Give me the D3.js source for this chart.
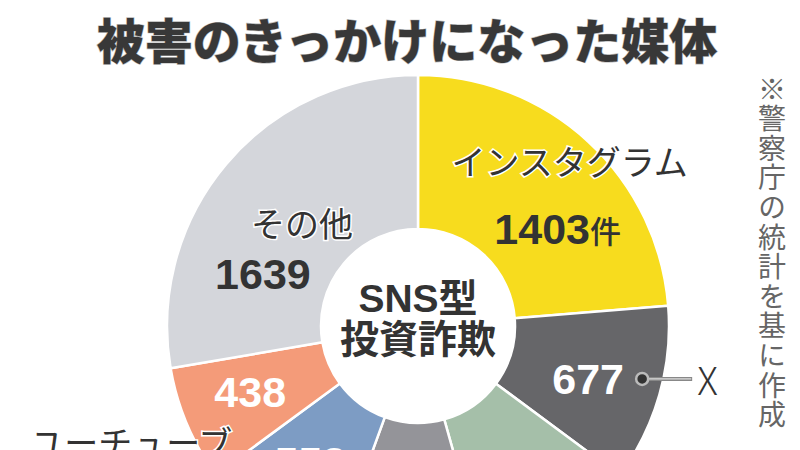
<!DOCTYPE html>
<html><head><meta charset="utf-8">
<script src="https://cdn.jsdelivr.net/npm/d3@7"></script>
<style>html,body{margin:0;padding:0;background:#fff;overflow:hidden} svg{display:block}</style>
</head><body>
<svg id="chart" width="800" height="450"></svg>
<script>
// ---- data ----
const categories = ["インスタグラム", "X", "媒体A", "媒体B", "媒体C", "ユーチューブ", "その他"];
const values = [1403, 677, 621, 587, 553, 438, 1639];
const valueLabels = ["1403", "677", null, null, "553", "438", "1639"];
const nameLabels = ["インスタグラム", "X", null, null, null, "ユーチューブ", "その他"];
const titleText = "被害のきっかけになった媒体";
const centerLines = ["SNS型", "投資詐欺"];
const unitText = "件";
const noteText = "※警察庁の統計を基に作成";

// ---- styles / layout ----
const colors = ["#F7DC1E", "#666669", "#A5BFA9", "#949499", "#7D9CC4", "#F49B79", "#D4D6DB"];
const valueColors = ["#333", "#fff", "#fff", "#fff", "#fff", "#fff", "#333"];
const valueOffsets = [[19, 34], [-1, 4], [0, 0], [0, 0], [-1, -6], [-4, -4], [-19, 63]];
const nameOffsets = [[31, -35], null, null, null, null, [-123, 46], [20, 11]];
const cx = 418, cy = 326, R = 251, r0 = 97, rLabel = 178;
const JP = "'Noto Sans CJK JP', 'Noto Sans', sans-serif";
const NUM = "'Liberation Sans', 'Noto Sans CJK JP', sans-serif";

const svg = d3.select("#chart");
svg.append("rect").attr("width", 800).attr("height", 450).attr("fill", "#fff");

const data = categories.map((c, i) => ({ name: c, value: values[i], i }));
const pie = d3.pie().sort(null).value(d => d.value).startAngle(0).endAngle(2 * Math.PI);
const arcs = pie(data);
const arc = d3.arc().innerRadius(r0).outerRadius(R);
const labelArc = d3.arc().innerRadius(rLabel).outerRadius(rLabel);

const g = svg.append("g").attr("transform", `translate(${cx},${cy})`);
g.selectAll("path.slice").data(arcs).join("path")
  .attr("class", "slice")
  .attr("d", arc)
  .attr("fill", d => colors[d.data.i])
  .attr("stroke", "#fff")
  .attr("stroke-width", 2.5)
  .attr("stroke-linejoin", "round");

g.append("circle").attr("r", r0).attr("fill", "#fff");

// center text (one text block, two lines)
const ct = g.append("text")
  .attr("text-anchor", "middle")
  .attr("font-weight", "bold").attr("font-size", 39)
  .attr("fill", "#333");
ct.selectAll("tspan").data(centerLines).join("tspan")
  .attr("x", 0).attr("y", (d, i) => i === 0 ? -14 : 27)
  .attr("font-family", (d, i) => i === 0 ? NUM : JP)
  .text(d => d);

// value labels
arcs.forEach(a => {
  const i = a.data.i;
  if (!valueLabels[i]) return;
  const [x, y] = labelArc.centroid(a);
  const t = g.append("text")
    .attr("x", x + valueOffsets[i][0]).attr("y", y + valueOffsets[i][1])
    .attr("text-anchor", "middle").attr("dominant-baseline", "central")
    .attr("font-family", NUM).attr("font-weight", "bold").attr("font-size", 43)
    .attr("fill", valueColors[i]);
  t.append("tspan").text(valueLabels[i]);
  if (i === 0) t.append("tspan").attr("font-family", JP).attr("font-weight", 500)
    .attr("font-size", 31).text(unitText);
});

// name labels
arcs.forEach(a => {
  const i = a.data.i;
  if (!nameOffsets[i] || !nameLabels[i] || nameLabels[i] === "X") return;
  const [x, y] = labelArc.centroid(a);
  g.append("text")
    .attr("x", x + nameOffsets[i][0]).attr("y", y + nameOffsets[i][1])
    .attr("text-anchor", "middle").attr("dominant-baseline", "central")
    .attr("font-family", JP).attr("font-weight", 400).attr("font-size", 34)
    .attr("fill", "#333").attr("stroke", "#fff").attr("stroke-width", 3)
    .attr("paint-order", "stroke")
    .text(nameLabels[i]);
});

// X leader
{
  const a = arcs[1];
  const [x, y] = labelArc.centroid(a);
  const px = x + 53, py = y + 4;
  g.append("line").attr("x1", px).attr("y1", py).attr("x2", px + 50).attr("y2", py)
    .attr("stroke", "#888").attr("stroke-width", 4);
  g.append("line").attr("x1", px).attr("y1", py).attr("x2", px + 49).attr("y2", py)
    .attr("stroke", "#ddd").attr("stroke-width", 1.2);
  g.append("circle").attr("cx", px).attr("cy", py).attr("r", 6)
    .attr("fill", "#333").attr("stroke", "#bbb").attr("stroke-width", 2.5);
  g.append("text").attr("x", px + 55).attr("y", py)
    .attr("dominant-baseline", "central")
    .attr("font-family", JP).attr("font-weight", 300).attr("font-size", 38)
    .attr("fill", "#333").text(nameLabels[1]);
}

// title
svg.append("text").attr("x", 407).attr("y", 38)
  .attr("text-anchor", "middle").attr("dominant-baseline", "central")
  .attr("font-family", JP).attr("font-weight", 900).attr("font-size", 48)
  .attr("fill", "#383838").attr("stroke", "#bbb").attr("stroke-width", 1.2)
  .attr("paint-order", "stroke")
  .text(titleText);

// vertical note
svg.append("text").attr("x", 772).attr("y", 75)
  .style("writing-mode", "vertical-rl")
  .attr("font-family", JP).attr("font-weight", 400).attr("font-size", 28)
  .attr("letter-spacing", 1.6)
  .attr("fill", "#666")
  .text(noteText);
</script>
</body></html>
